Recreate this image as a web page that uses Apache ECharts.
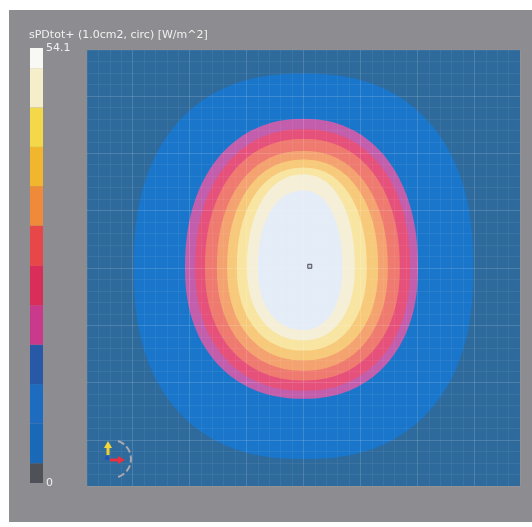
<!DOCTYPE html>
<html>
<head>
<meta charset="utf-8">
<script src="https://cdn.jsdelivr.net/npm/echarts@6/dist/echarts.min.js"></script>
<style>
  html, body { margin: 0; padding: 0; background: #ffffff; }
  #chart { width: 532px; height: 527px; }
</style>
</head>
<body>
<div id="chart"></div>
<script>
// Iso-contour bands of sPDtot+, outermost first (lower bound of each band in W/m^2)
const bandLevels = [12.3, 17.2, 22.1, 27.0, 32.0, 36.9, 41.8, 46.7, 51.6];
// extent of each band boundary, in mm
const bandLeft   = [-29.8, -20.8, -19.0, -17.3, -15.2, -13.4, -11.7, -9.9, -8.0];
const bandRight  = [ 29.8,  20.1,  18.7,  16.9,  14.8,  13.1,  11.1,  9.0,  6.8];
const bandTop    = [ 33.9,  26.0,  24.2,  22.5,  20.4,  18.9,  17.5, 16.3, 13.5];
const bandBottom = [-33.3, -22.8, -21.4, -19.6, -17.9, -16.1, -14.4, -12.6, -10.8];
const bandColors = ['#1a76ca', '#c25eac', '#e5517a', '#ef7a70', '#f4a26f',
                    '#f7c97a', '#f8e5a2', '#f5efd8', '#e4ecf7'];

// colour scale (W/m^2)
const scaleMin = 0;
const scaleMax = 54.1;
const scaleBounds = [0, 2.46, 7.38, 12.3, 17.2, 22.1, 27.0, 32.0, 36.9, 41.8, 46.7, 51.6, 54.1];
const scaleColors = ['#4e5258', '#1a69b8', '#1d6cbf', '#2759a6', '#c93a8c', '#d92e5a',
                     '#e8474a', '#ef8a3a', '#f2b52e', '#f3d84a', '#f5eecb', '#f8f8f4'];

// evaluation point marker (mm)
const probePoint = [[1.1, 0.3]];

// plotted area, mm
const axisMin = -38;
const axisMax = 38;

const chart = echarts.init(document.getElementById('chart'), null, { renderer: 'canvas' });

function bandPolygon(params, api) {
  const i = api.value(0);
  const n = i === 0 ? 2.35 : 2.2;
  const pts = [];
  const steps = 240;
  for (let k = 0; k < steps; k++) {
    const t = k / steps * Math.PI * 2;
    const c = Math.cos(t), s = Math.sin(t);
    const u = Math.sign(c) * Math.pow(Math.abs(c), 2 / n);
    const v = Math.sign(s) * Math.pow(Math.abs(s), 2 / n);
    const x = u >= 0 ? u * bandRight[i] : -u * bandLeft[i];
    const y = v >= 0 ? v * bandTop[i] : -v * bandBottom[i];
    pts.push(api.coord([x, y]));
  }
  return {
    type: 'polygon',
    shape: { points: pts },
    style: { fill: bandColors[i], stroke: null }
  };
}

function scaleSegment(params, api) {
  const lo = api.coord([0, api.value(0)]);
  const hi = api.coord([0, api.value(1)]);
  const size = api.size([1, 0]);
  return {
    type: 'rect',
    shape: { x: lo[0] - size[0] / 2, y: hi[1], width: size[0], height: lo[1] - hi[1] },
    style: { fill: scaleColors[api.value(2)] }
  };
}

const minor = 'rgba(255,255,255,0.06)';
const major = 'rgba(255,255,255,0.15)';

const option = {
  backgroundColor: '#ffffff',
  animation: false,
  title: {
    text: 'sPDtot+ (1.0cm2, circ) [W/m^2]',
    left: 24, top: 25,
    textStyle: { color: '#f0f0f0', fontSize: 11, fontWeight: 'normal', fontFamily: 'DejaVu Sans' }
  },
  graphic: [
    { type: 'rect', z: -10, silent: true,
      shape: { x: 9, y: 10, width: 523, height: 512 },
      style: { fill: '#8d8d91' } },
    // coordinate triad
    { type: 'arc', z: 20, silent: true,
      shape: { cx: 112, cy: 459, r: 19, startAngle: -1.25, endAngle: 1.25 },
      style: { stroke: '#a8a8b0', lineWidth: 2, fill: null, lineDash: [7, 3] } },
    { type: 'line', z: 20, silent: true,
      shape: { x1: 108, y1: 455, x2: 108, y2: 447 },
      style: { stroke: '#f0d030', lineWidth: 3 } },
    { type: 'polygon', z: 20, silent: true,
      shape: { points: [[104, 448], [112, 448], [108, 441]] },
      style: { fill: '#f5d838' } },
    { type: 'line', z: 20, silent: true,
      shape: { x1: 110, y1: 460, x2: 119, y2: 460 },
      style: { stroke: '#e83040', lineWidth: 3 } },
    { type: 'polygon', z: 20, silent: true,
      shape: { points: [[118, 456], [118, 464], [125, 460]] },
      style: { fill: '#e83040' } },
    { type: 'circle', z: 20, silent: true,
      shape: { cx: 107, cy: 458, r: 2 },
      style: { fill: '#2050c0' } }
  ],
  grid: [
    { left: 87, top: 50, width: 433, height: 436, show: true,
      backgroundColor: '#2e6a9c', borderWidth: 0 },
    { left: 30, top: 48, width: 13, height: 435, show: false }
  ],
  xAxis: [
    { gridIndex: 0, type: 'value', min: axisMin, max: axisMax, interval: 2, z: 10,
      axisLine: { show: false }, axisTick: { show: false }, axisLabel: { show: false },
      splitLine: { show: true, lineStyle: { color: [minor, minor, minor, minor, major], width: 1 } } },
    { gridIndex: 1, type: 'value', min: -0.5, max: 0.5, show: false }
  ],
  yAxis: [
    { gridIndex: 0, type: 'value', min: axisMin, max: axisMax, interval: 2, z: 10,
      axisLine: { show: false }, axisTick: { show: false }, axisLabel: { show: false },
      splitLine: { show: true, lineStyle: { color: [minor, minor, minor, minor, major], width: 1 } } },
    { gridIndex: 1, type: 'value', position: 'right', min: scaleMin, max: scaleMax,
      interval: scaleMax - scaleMin,
      axisLine: { show: false }, axisTick: { show: false }, splitLine: { show: false },
      axisLabel: { show: true, margin: 3, color: '#f0f0f0', fontSize: 11, fontFamily: 'DejaVu Sans' } }
  ],
  series: [
    {
      type: 'custom', name: 'sPDtot+',
      xAxisIndex: 0, yAxisIndex: 0, z: 2, clip: true,
      renderItem: bandPolygon,
      data: bandLevels.map((lvl, i) => [i, lvl])
    },
    {
      type: 'scatter', xAxisIndex: 0, yAxisIndex: 0, z: 12,
      symbol: 'rect', symbolSize: 4,
      itemStyle: { color: '#c8ccd8', borderColor: '#252530', borderWidth: 1 },
      data: probePoint
    },
    {
      type: 'custom', name: 'scale',
      xAxisIndex: 1, yAxisIndex: 1,
      renderItem: scaleSegment,
      data: scaleColors.map((c, i) => [scaleBounds[i], scaleBounds[i + 1], i])
    }
  ]
};

chart.setOption(option);
</script>
</body>
</html>
